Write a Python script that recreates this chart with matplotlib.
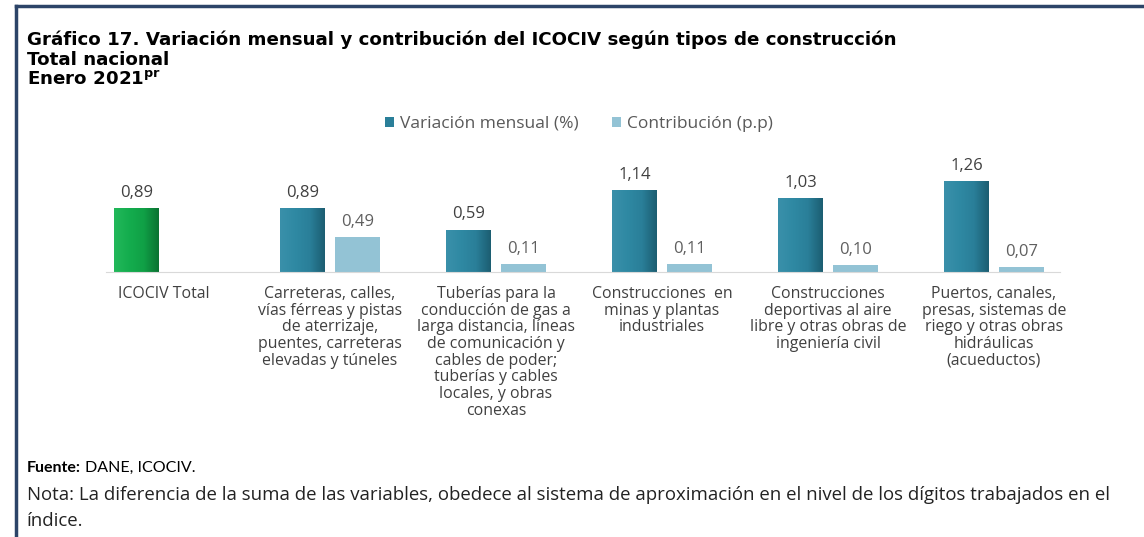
import matplotlib.pyplot as plt
from matplotlib.lines import Line2D
from matplotlib.colors import LinearSegmentedColormap
import numpy as np

categories = [
    "ICOCIV Total",
    "Carreteras, calles,\nvías férreas y pistas\nde aterrizaje,\npuentes, carreteras\nelevadas y túneles",
    "Tuberías para la\nconducción de gas a\nlarga distancia, líneas\nde comunicación y\ncables de poder;\ntuberías y cables\nlocales, y obras\nconexas",
    "Construcciones  en\nminas y plantas\nindustriales",
    "Construcciones\ndeportivas al aire\nlibre y otras obras de\ningeniería civil",
    "Puertos, canales,\npresas, sistemas de\nriego y otras obras\nhidráulicas\n(acueductos)",
]
variacion = [0.89, 0.89, 0.59, 1.14, 1.03, 1.26]
contribucion = [None, 0.49, 0.11, 0.11, 0.10, 0.07]

plt.rcParams['font.family'] = ['Open Sans', 'DejaVu Sans']

dark = '#2a7f99'
light = '#93c3d5'
green = '#12a84b'
txt = '#404040'

fig = plt.figure(figsize=(11.44, 5.37), dpi=100)
ax = fig.add_axes([81 / 1144, (537 - 272) / 537, 996 / 1144, 108 / 537])

x = np.arange(len(categories))
w = 0.27
off = 0.165
bar_colors = [green] + [dark] * (len(categories) - 1)
b1 = ax.bar(x - off, variacion, w, color=bar_colors, label='Variación mensual (%)')
cx = [i + off for i, v in enumerate(contribucion) if v is not None]
cv = [v for v in contribucion if v is not None]
b2 = ax.bar(cx, cv, w, color=light, label='Contribución (p.p)')

# bevel-like shading on the main series
grad = np.linspace(0, 1, 64).reshape(1, -1)
cmap_teal = LinearSegmentedColormap.from_list('t', ['#3a90aa', '#2f89a3', '#2a7f99', '#1c5e72'])
cmap_green = LinearSegmentedColormap.from_list('g', ['#22b85a', '#14ad4e', '#10a046', '#0a7332'])
for i, bar in enumerate(b1):
    cm = cmap_green if i == 0 else cmap_teal
    im = ax.imshow(grad, cmap=cm, aspect='auto', interpolation='bilinear',
                   extent=[bar.get_x(), bar.get_x() + bar.get_width(), 0, bar.get_height()],
                   zorder=bar.get_zorder() + 0.1)
    im.set_clip_path(bar)

for bar, v in zip(b1, variacion):
    ax.text(bar.get_x() + bar.get_width() / 2, v + 0.1, f"{v:.2f}".replace('.', ','),
            ha='center', va='bottom', fontsize=12, color=txt)
for bar, v in zip(b2, cv):
    ax.text(bar.get_x() + bar.get_width() / 2, v + 0.1, f"{v:.2f}".replace('.', ','),
            ha='center', va='bottom', fontsize=12, color='#5f5f5f')

ax.set_xlim(-0.5, len(categories) - 0.5)
ax.set_ylim(0, 1.5)
ax.set_xticks(x)
ax.set_xticklabels(categories, fontsize=11.4, color=txt, linespacing=1.06, va='top')
ax.tick_params(axis='x', length=0, pad=10)
ax.set_yticks([])
for s in ['top', 'right', 'left']:
    ax.spines[s].set_visible(False)
ax.spines['bottom'].set_color('#d9d9d9')
ax.spines['bottom'].set_bounds(-0.35, 5.4)

leg = fig.legend(handles=[b1[1], b2[0]], labels=['Variación mensual (%)', 'Contribución (p.p)'],
                 loc='center', bbox_to_anchor=(579 / 1144, 1 - 124 / 537), ncol=2, frameon=False,
                 fontsize=12.5, handlelength=0.55, handleheight=0.55, handletextpad=0.35,
                 columnspacing=1.9)
for t in leg.get_texts():
    t.set_color('#595959')

# title block
tfam = ['DejaVu Sans']
fig.text(27 / 1144, 1 - 40 / 537, "Gráfico 17. Variación mensual y contribución del ICOCIV según tipos de construcción",
         fontsize=13.15, fontweight='bold', va='center', color='black', family=tfam)
fig.text(27 / 1144, 1 - 60 / 537, "Total nacional", fontsize=13.15, fontweight='bold', va='center', family=tfam)
fig.text(27 / 1144, 1 - 80 / 537, "Enero 2021$^{\\mathbf{pr}}$", fontsize=13.15, fontweight='bold', va='center',
         family=tfam)

# footnotes
ffam = ['Lato', 'DejaVu Sans']
src = fig.text(27 / 1144, 1 - 468 / 537, "Fuente:", fontsize=11.5, fontweight='bold', va='center',
               family=ffam)
ax.annotate("DANE, ICOCIV.", xy=(1, 0.5), xycoords=src, xytext=(3, 0), textcoords='offset points',
            va='center', ha='left', fontsize=11.5, family=ffam, annotation_clip=False)
fig.text(27 / 1144, 1 - 495 / 537,
         "Nota: La diferencia de la suma de las variables, obedece al sistema de aproximación en el nivel de los dígitos trabajados en el",
         fontsize=13.4, va='center', color='#222222')
fig.text(27 / 1144, 1 - 521 / 537, "índice.", fontsize=13.4, va='center', color='#222222')

# frame lines
fig.add_artist(Line2D([16 / 1144, 1], [1 - 5.5 / 537] * 2, color='#2c4468', linewidth=2.5))
fig.add_artist(Line2D([16 / 1144] * 2, [0, 1 - 5.5 / 537], color='#2c4468', linewidth=2.5))

fig.savefig('out.png', dpi=100)
